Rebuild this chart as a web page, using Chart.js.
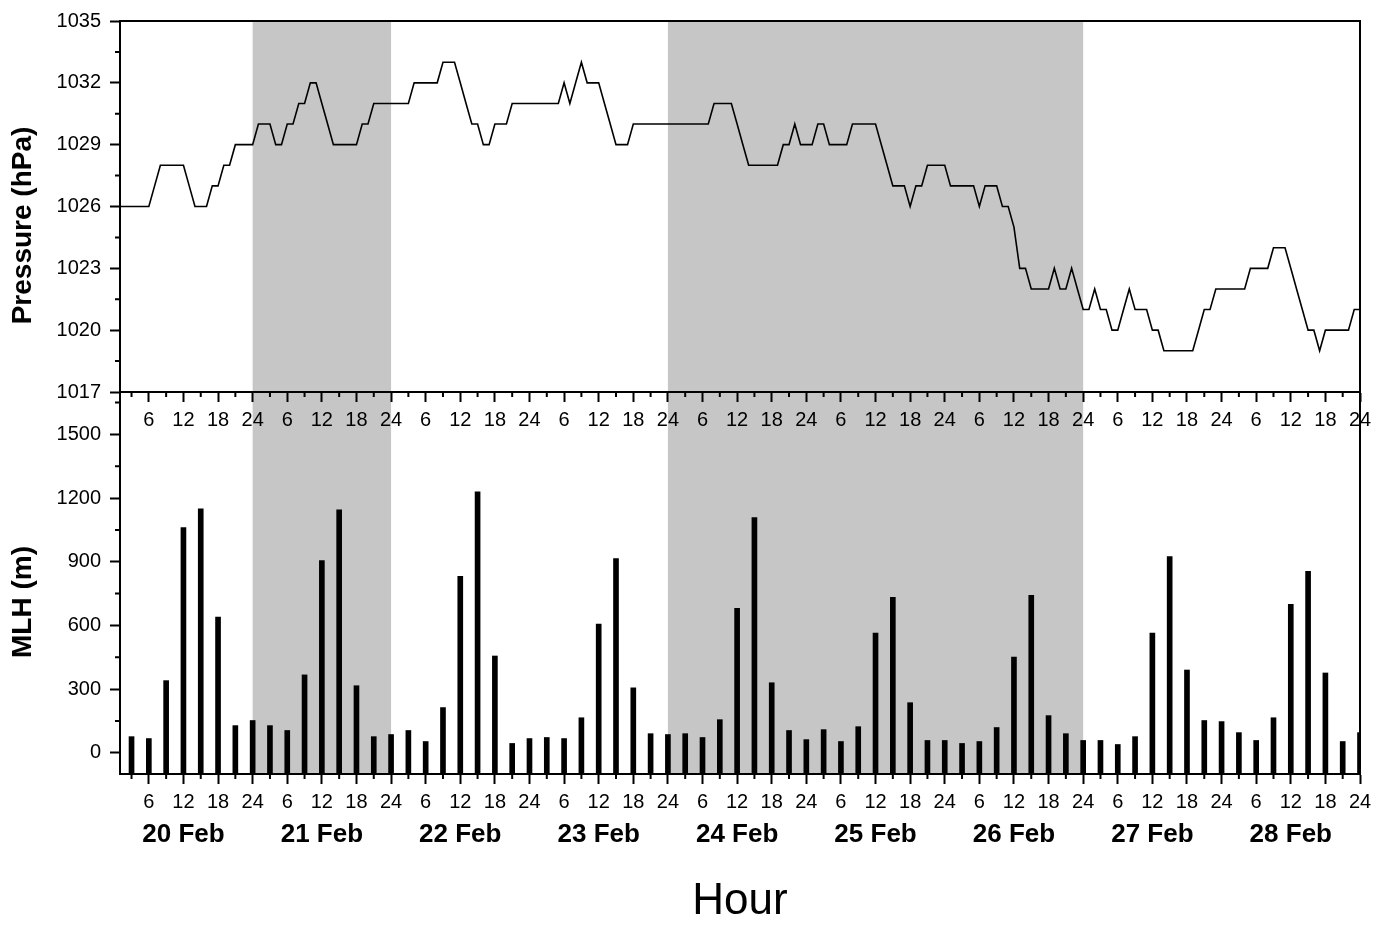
<!DOCTYPE html>
<html>
<head>
<meta charset="utf-8">
<script src="https://cdn.jsdelivr.net/npm/chart.js@4.4.1/dist/chart.umd.min.js"></script>
<style>
  body { margin: 0; background: #fff; }
  #wrap { position: relative; width: 1378px; height: 928px; }
  canvas { position: absolute; left: 0; top: 0; }
</style>
</head>
<body>
<div id="wrap">
  <canvas id="mlh" width="1378" height="928"></canvas>
  <canvas id="pres" width="1378" height="440"></canvas>
</div>
<script>
// hourly surface pressure (hPa), hours 1..216 starting 20 Feb 01:00
const pressure = [
  1026, 1026, 1026, 1026, 1026, 1026, 1027, 1028, 1028, 1028, 1028, 1028, 1027, 1026, 1026, 1026, 1027, 1027, 1028, 1028, 1029, 1029, 1029, 1029,
  1030, 1030, 1030, 1029, 1029, 1030, 1030, 1031, 1031, 1032, 1032, 1031, 1030, 1029, 1029, 1029, 1029, 1029, 1030, 1030, 1031, 1031, 1031, 1031,
  1031, 1031, 1031, 1032, 1032, 1032, 1032, 1032, 1033, 1033, 1033, 1032, 1031, 1030, 1030, 1029, 1029, 1030, 1030, 1030, 1031, 1031, 1031, 1031,
  1031, 1031, 1031, 1031, 1031, 1032, 1031, 1032, 1033, 1032, 1032, 1032, 1031, 1030, 1029, 1029, 1029, 1030, 1030, 1030, 1030, 1030, 1030, 1030,
  1030, 1030, 1030, 1030, 1030, 1030, 1030, 1031, 1031, 1031, 1031, 1030, 1029, 1028, 1028, 1028, 1028, 1028, 1028, 1029, 1029, 1030, 1029, 1029,
  1029, 1030, 1030, 1029, 1029, 1029, 1029, 1030, 1030, 1030, 1030, 1030, 1029, 1028, 1027, 1027, 1027, 1026, 1027, 1027, 1028, 1028, 1028, 1028,
  1027, 1027, 1027, 1027, 1027, 1026, 1027, 1027, 1027, 1026, 1026, 1025, 1023, 1023, 1022, 1022, 1022, 1022, 1023, 1022, 1022, 1023, 1022, 1021,
  1021, 1022, 1021, 1021, 1020, 1020, 1021, 1022, 1021, 1021, 1021, 1020, 1020, 1019, 1019, 1019, 1019, 1019, 1019, 1020, 1021, 1021, 1022, 1022,
  1022, 1022, 1022, 1022, 1023, 1023, 1023, 1023, 1024, 1024, 1024, 1023, 1022, 1021, 1020, 1020, 1019, 1020, 1020, 1020, 1020, 1020, 1021, 1021
];
const pressureHours = pressure.map((_, i) => i + 1);

// mixing layer height (m), every 3 hours
const mlh = [
  76, 67, 340, 1061, 1150, 639, 128, 152,
  128, 105, 367, 906, 1145, 316, 76, 86,
  105, 53, 213, 831, 1230, 456, 44, 67,
  72, 67, 165, 606, 915, 306, 90, 86,
  90, 72, 156, 681, 1108, 330, 105, 62,
  109, 53, 123, 564, 732, 236, 58, 58,
  44, 53, 119, 451, 742, 175, 90, 58,
  58, 39, 76, 564, 925, 390, 152, 147,
  95, 58, 165, 700, 855, 376, 53, 95
];
const mlhHours = mlh.map((_, i) => 3 * (i + 1));

const hourLabels = ['6', '12', '18', '24'];
const dayLabels = ['20 Feb', '21 Feb', '22 Feb', '23 Feb', '24 Feb', '25 Feb', '26 Feb', '27 Feb', '28 Feb'];
const shadeFrom = [24, 96];
const shadeTo = [48, 168];

const pressTicks = [1017, 1020, 1023, 1026, 1029, 1032, 1035];
const pressMinor = [1018.5, 1021.5, 1024.5, 1027.5, 1030.5, 1033.5];
const mlhTicks = [0, 300, 600, 900, 1200, 1500];
const mlhMinor = [150, 450, 750, 1050, 1350, 1650];

const majorHours = [];
const minorHours = [];
for (let h = 3; h <= 216; h += 3) (h % 6 ? minorHours : majorHours).push(h);
const dayCentres = dayLabels.map((_, i) => 24 * i + 12);

const family = '"Liberation Sans", Arial, sans-serif';

const decor = {
  id: 'decor',
  beforeDraw(chart) {
    const { ctx, chartArea: a, scales } = chart;
    ctx.save();
    ctx.fillStyle = '#c6c6c6';
    shadeFrom.forEach((s, i) => {
      const x0 = scales.x.getPixelForValue(s);
      const x1 = scales.x.getPixelForValue(shadeTo[i]);
      ctx.fillRect(x0, a.top, x1 - x0, a.bottom - a.top);
    });
    ctx.restore();
  },
  afterDraw(chart, args, opts) {
    const { ctx, chartArea: a, scales } = chart;
    ctx.save();
    ctx.strokeStyle = '#000';
    ctx.lineWidth = 2;
    ctx.strokeRect(a.left, a.top, a.right - a.left, a.bottom - a.top);
    ctx.beginPath();
    minorHours.forEach(v => {
      const x = scales.x.getPixelForValue(v);
      ctx.moveTo(x, a.bottom);
      ctx.lineTo(x, a.bottom + 5);
    });
    opts.minorY.forEach(v => {
      const y = scales.y.getPixelForValue(v);
      ctx.moveTo(a.left, y);
      ctx.lineTo(a.left - 5, y);
    });
    ctx.stroke();
    ctx.translate(23, (a.top + a.bottom) / 2 + 19);
    ctx.rotate(-Math.PI / 2);
    ctx.font = 'bold 28px ' + family;
    ctx.textAlign = 'center';
    ctx.textBaseline = 'middle';
    ctx.fillStyle = '#000';
    ctx.fillText(opts.title, 0, 0);
    ctx.restore();
  }
};

const axisLine = { color: '#000', width: 2 };
const tickMarks = { drawOnChartArea: false, tickLength: 10, tickWidth: 2, tickColor: '#000', color: '#000', offset: false };

function hourAxis(height) {
  return {
    type: 'linear', min: 1, max: 216, offset: false, weight: 0,
    afterBuildTicks: s => { s.ticks = majorHours.map(v => ({ value: v })); },
    afterFit: s => { s.height = height; },
    grid: tickMarks,
    border: axisLine,
    ticks: {
      color: '#000', font: { size: 20, family }, padding: 6,
      maxRotation: 0, autoSkip: false,
      callback: v => hourLabels[(v / 6 - 1) % 4]
    }
  };
}

function valueAxis(min, max, ticks) {
  return {
    min, max,
    afterBuildTicks: s => { s.ticks = ticks.map(v => ({ value: v })); },
    afterFit: s => { s.width = 120; },
    grid: tickMarks,
    border: axisLine,
    ticks: { color: '#000', font: { size: 20, family }, padding: 9, callback: v => String(v) }
  };
}

new Chart(document.getElementById('mlh'), {
  type: 'bar',
  data: {
    datasets: [{
      data: mlhHours.map((h, i) => ({ x: h, y: mlh[i] })),
      xAxisID: 'x', yAxisID: 'y',
      backgroundColor: '#000',
      barThickness: 5,
      base: -100
    }]
  },
  options: {
    responsive: false,
    animation: false,
    layout: { padding: { top: 392, right: 18, left: 0, bottom: 0 } },
    plugins: {
      legend: { display: false },
      tooltip: { enabled: false },
      decor: { minorY: mlhMinor, title: 'MLH (m)' }
    },
    scales: {
      x: hourAxis(37),
      day: {
        type: 'linear', position: 'bottom', min: 1, max: 216, offset: false, weight: 1,
        afterBuildTicks: s => { s.ticks = dayCentres.map(v => ({ value: v })); },
        afterFit: s => { s.height = 117; },
        grid: { display: false },
        border: { display: false },
        ticks: {
          color: '#000', font: { size: 26, weight: 'bold', family }, padding: 0,
          maxRotation: 0, autoSkip: false,
          callback: (v, i) => dayLabels[i]
        },
        title: {
          display: true, text: 'Hour', color: '#000',
          font: { size: 44, family }, padding: { top: 0, bottom: 0 }
        }
      },
      y: valueAxis(-100, 1700, mlhTicks)
    }
  },
  plugins: [decor]
});

new Chart(document.getElementById('pres'), {
  type: 'line',
  data: {
    datasets: [{
      data: pressureHours.map((h, i) => ({ x: h, y: pressure[i] })),
      borderColor: '#000',
      borderWidth: 1.6,
      pointRadius: 0,
      tension: 0
    }]
  },
  options: {
    responsive: false,
    animation: false,
    layout: { padding: { top: 20, right: 18, left: 0, bottom: 0 } },
    plugins: {
      legend: { display: false },
      tooltip: { enabled: false },
      decor: { minorY: pressMinor, title: 'Pressure (hPa)' }
    },
    scales: {
      x: hourAxis(48),
      y: valueAxis(1017, 1035, pressTicks)
    }
  },
  plugins: [decor]
});
</script>
</body>
</html>
